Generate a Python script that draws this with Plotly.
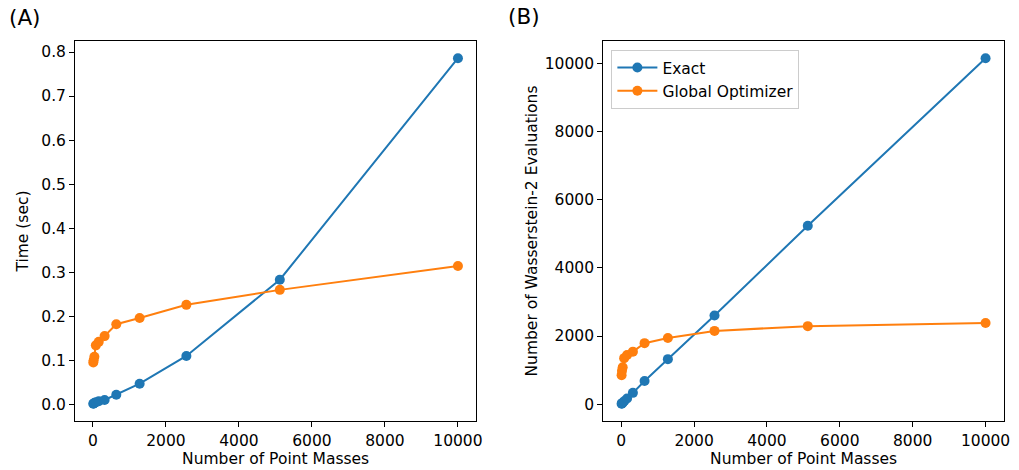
import plotly.graph_objects as go

# Data
n_points = [10, 20, 40, 80, 160, 320, 640, 1280, 2560, 5120, 10000]
time_exact = [0.0015, 0.002, 0.003, 0.005, 0.007, 0.010, 0.022, 0.047, 0.110, 0.283, 0.786]
time_global = [0.095, 0.100, 0.108, 0.134, 0.142, 0.155, 0.182, 0.196, 0.226, 0.260, 0.314]
evals_exact = [10, 20, 40, 85, 165, 330, 676, 1320, 2600, 5240, 10160]
evals_global = [850, 980, 1080, 1350, 1440, 1540, 1790, 1940, 2150, 2290, 2380]
x_ticks = [0, 2000, 4000, 6000, 8000, 10000]
time_ticks = [0, 0.1, 0.2, 0.3, 0.4, 0.5, 0.6, 0.7, 0.8]
eval_ticks = [0, 2000, 4000, 6000, 8000, 10000]

BLUE = "#1f77b4"
ORANGE = "#ff7f0e"
FONT = "DejaVu Sans"
W, H = 1019, 470


def px(x):
    return x / W


def py(y):
    return 1 - y / H


fig = go.Figure()


def add(x, y, color, name, xa, ya, show):
    fig.add_trace(go.Scatter(
        x=x, y=y, mode="lines+markers", name=name,
        line=dict(color=color, width=2),
        marker=dict(color=color, size=10),
        xaxis=xa, yaxis=ya, showlegend=show))


add(n_points, time_exact, BLUE, "Exact", "x", "y", False)
add(n_points, time_global, ORANGE, "Global Optimizer", "x", "y", False)
add(n_points, evals_exact, BLUE, "Exact", "x2", "y2", True)
add(n_points, evals_global, ORANGE, "Global Optimizer", "x2", "y2", True)

FS = 15.5
ydom = [py(421), py(41)]
common = dict(showline=True, linecolor="black", linewidth=1, mirror=True,
              ticks="outside", ticklen=5, tickcolor="black", showgrid=False,
              zeroline=False, tickfont=dict(family=FONT, size=FS, color="black"))

fig.update_layout(
    width=W, height=H, autosize=False,
    margin=dict(l=0, r=0, t=0, b=0),
    paper_bgcolor="white", plot_bgcolor="white",
    font=dict(family=FONT, size=FS, color="black"),
    xaxis=dict(domain=[px(75.5), px(479)], range=[-489.5, 10499.5],
               tickvals=x_ticks, tickformat="d", anchor="y",
               title=dict(text="Number of Point Masses", font=dict(size=FS), standoff=2),
               **common),
    yaxis=dict(domain=ydom, range=[-0.0377, 0.825], anchor="x",
               tickvals=time_ticks, tickformat=".1f",
               title=dict(text="Time (sec)", font=dict(size=FS), standoff=8),
               **common),
    xaxis2=dict(domain=[px(606.7), px(1010)], range=[-497, 10507], anchor="y2",
                tickvals=x_ticks, tickformat="d",
                title=dict(text="Number of Point Masses", font=dict(size=FS), standoff=2),
                **common),
    yaxis2=dict(domain=ydom, range=[-497, 10667], anchor="x2",
                tickvals=eval_ticks, tickformat="d",
                title=dict(text="Number of Wasserstein-2 Evaluations", font=dict(size=FS), standoff=3),
                **common),
    legend=dict(x=px(615), y=py(50), xanchor="left", yanchor="top",
                bgcolor="rgba(255,255,255,0.8)", bordercolor="#cccccc", borderwidth=1,
                font=dict(family=FONT, size=FS), itemwidth=40, tracegroupgap=0),
    annotations=[
        dict(text="(A)", x=px(7), y=py(18), xref="paper", yref="paper",
             xanchor="left", yanchor="middle", showarrow=False, font=dict(family=FONT, size=21.5)),
        dict(text="(B)", x=px(509), y=py(16), xref="paper", yref="paper",
             xanchor="left", yanchor="middle", showarrow=False, font=dict(family=FONT, size=21.5)),
    ],
)

fig.write_html("out.html",
               config={"displayModeBar": False},
               post_script="document.body.style.margin='0';document.body.style.overflow='hidden';")
